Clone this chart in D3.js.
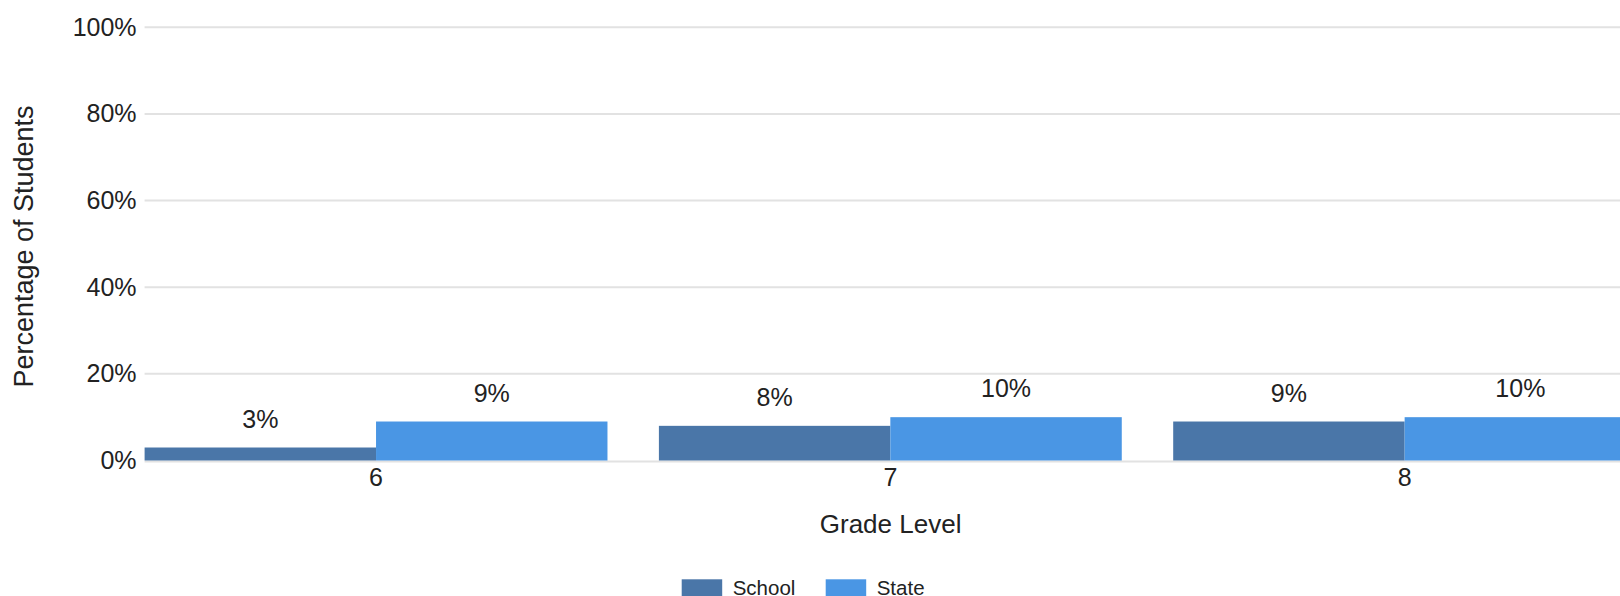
<!DOCTYPE html>
<html>
<head>
<meta charset="utf-8">
<script src="https://cdn.jsdelivr.net/npm/d3@7"></script>
<style>
  html, body { margin: 0; padding: 0; background: #fff; overflow: hidden; }
  svg { display: block; font-family: "Liberation Sans", Arial, sans-serif; }
</style>
</head>
<body>
<svg id="chart" width="1620" height="596"></svg>
<script>
// Grade-level comparison of school vs. state percentages
const grades = ["6", "7", "8"];
const seriesNames = ["School", "State"];
const schoolValues = [3, 8, 9];
const stateValues = [9, 10, 10];
const yTicks = [0, 20, 40, 60, 80, 100];
const seriesColors = ["#4a76a8", "#4a96e4"];

const svg = d3.select("#chart");
const textColor = "#222";

const plotLeft = 144.6;
const step = 514.3;
const x = d3.scaleBand()
  .domain(grades)
  .range([plotLeft, plotLeft + step * 2.9])
  .paddingInner(0.1)
  .paddingOuter(0);

const xSeries = d3.scaleBand()
  .domain(seriesNames)
  .range([0, x.bandwidth()])
  .padding(0);

const y = d3.scaleLinear().domain([0, 100]).range([460.5, 27.3]);

// horizontal gridlines
svg.append("g")
  .selectAll("line")
  .data(yTicks)
  .join("line")
  .attr("x1", plotLeft)
  .attr("x2", 1660)
  .attr("y1", d => y(d) + (d === 0 ? 1 : 0))
  .attr("y2", d => y(d) + (d === 0 ? 1 : 0))
  .attr("stroke", "#e2e2e2")
  .attr("stroke-width", 2);

// y axis labels
const yAxis = svg.append("g")
  .attr("transform", `translate(${plotLeft},0)`)
  .call(d3.axisLeft(y).tickValues(yTicks).tickSize(0).tickPadding(8).tickFormat(d => d + "%"));
yAxis.select(".domain").remove();
yAxis.selectAll("text")
  .attr("fill", textColor)
  .style("font-size", "25px")
  .style("font-family", "Liberation Sans, Arial, sans-serif");

// bars
const rows = grades.map((g, i) => ({
  grade: g,
  values: [
    { series: seriesNames[0], value: schoolValues[i] },
    { series: seriesNames[1], value: stateValues[i] }
  ]
}));

const color = d3.scaleOrdinal().domain(seriesNames).range(seriesColors);

const groups = svg.append("g")
  .selectAll("g")
  .data(rows)
  .join("g")
  .attr("transform", d => `translate(${x(d.grade)},0)`);

groups.selectAll("rect")
  .data(d => d.values)
  .join("rect")
  .attr("x", d => xSeries(d.series))
  .attr("width", xSeries.bandwidth())
  .attr("y", d => y(d.value))
  .attr("height", d => y(0) - y(d.value))
  .attr("fill", d => color(d.series));

// value labels
groups.selectAll("text")
  .data(d => d.values)
  .join("text")
  .attr("x", d => xSeries(d.series) + xSeries.bandwidth() / 2)
  .attr("y", d => y(d.value) - 20)
  .attr("text-anchor", "middle")
  .attr("fill", textColor)
  .style("font-size", "25px")
  .text(d => d.value + "%");

// x axis labels
const xAxis = svg.append("g")
  .attr("transform", `translate(0,${y(0)})`)
  .call(d3.axisBottom(x).tickSize(0).tickPadding(8));
xAxis.select(".domain").remove();
xAxis.selectAll("text")
  .attr("fill", textColor)
  .style("font-size", "25px")
  .style("font-family", "Liberation Sans, Arial, sans-serif");

// axis titles
svg.append("text")
  .attr("x", 890.6)
  .attr("y", 533.3)
  .attr("text-anchor", "middle")
  .attr("fill", textColor)
  .style("font-size", "26px")
  .text("Grade Level");

svg.append("text")
  .attr("transform", "translate(33.3,246.5) rotate(-90)")
  .attr("text-anchor", "middle")
  .attr("fill", textColor)
  .style("font-size", "27px")
  .text("Percentage of Students");

// legend
const legendX = [681.7, 825.7];
const legend = svg.append("g")
  .selectAll("g")
  .data(seriesNames)
  .join("g")
  .attr("transform", (d, i) => `translate(${legendX[i]},579.3)`);

legend.append("rect")
  .attr("width", 40.5)
  .attr("height", 17)
  .attr("fill", d => color(d));

legend.append("text")
  .attr("x", 51)
  .attr("y", 15.3)
  .attr("fill", textColor)
  .style("font-size", "20.5px")
  .text(d => d);
</script>
</body>
</html>
